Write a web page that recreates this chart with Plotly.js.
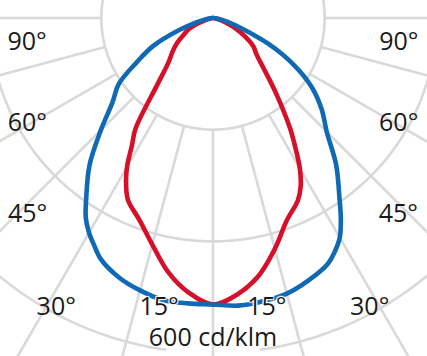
<!DOCTYPE html>
<html>
<head>
<meta charset="utf-8">
<script src="https://cdn.plot.ly/plotly-3.0.1.min.js"></script>
<style>
  html, body { margin: 0; padding: 0; width: 427px; height: 356px; overflow: hidden; background: #ffffff; }
  #plot { position: absolute; left: -217px; top: -412px; width: 860px; height: 860px; }
</style>
</head>
<body>
<div id="plot"></div>
<script>
// Polar angles (deg from nadir) and luminous intensity (cd/klm)
const gamma     = [0, 5, 10, 15, 20, 25, 27.5, 30, 32.5, 35, 40, 45, 50, 55, 60, 65, 70, 75, 80, 85, 90];
const blueLeft  = [513, 513, 513, 505, 494, 476, 460, 444, 424, 396, 344, 284, 235, 206, 157, 118, 68, 32, 14, 4, 0];
const blueRight = [513, 517, 515, 511, 500, 486, 472, 454, 426, 395, 343, 288, 254, 216, 166, 109, 54, 27, 11, 4, 0];
const redLeft   = [513, 494, 462, 420, 385, 360, 337, 308, 270, 242, 154, 113, 95, 79, 61, 48, 29, 14, 5, 2, 0];
const redRight  = [513, 497, 469, 428, 386, 360, 340, 311, 274, 240, 175, 129, 102, 88, 66, 45, 25, 13, 5, 2, 0];

// grid
const ringValues  = [200, 400, 600];
const spokeAngles = [-90, -75, -60, -45, -30, -15, 0, 15, 30, 45, 60, 75, 90];

// labels
const labelText  = ['90°', '90°', '60°', '60°', '45°', '45°', '30°', '30°'];
const labelTheta = [-82.2, 82.2, -60, 60, -43.2, 43.2, -28.3, 28.3];
const labelR     = [336, 336, 384, 384, 485, 485, 592, 592];
const label15Text  = ['15°', '15°'];
const label15Theta = [-10.5, 10.5];
const label15R     = [529, 529];
const unitText = '600 cd/klm';

function buildCurve(left, right) {
  const th = [], r = [];
  for (let i = gamma.length - 1; i >= 1; i--) { th.push(-gamma[i]); r.push(left[i]); }
  th.push(0); r.push(left[0]);
  for (let i = 1; i < gamma.length; i++) { th.push(gamma[i]); r.push(right[i]); }
  return { th, r };
}

const gridColor = '#d9d9d9';
const traces = [];

// rings
ringValues.forEach(function (v, idx) {
  const th = [], r = [];
  if (idx === 2) {
    for (let a = -180; a <= -8; a += 1) { th.push(a); r.push(v); }
    th.push(null); r.push(null);
    for (let a = 8; a <= 180; a += 1) { th.push(a); r.push(v); }
  } else {
    for (let a = -180; a <= 180; a += 1) { th.push(a); r.push(v); }
  }
  traces.push({ type: 'scatterpolar', mode: 'lines', r: r, theta: th,
    line: { color: gridColor, width: 2.6 }, hoverinfo: 'skip', showlegend: false, connectgaps: false });
});

// spokes
(function () {
  const th = [], r = [];
  spokeAngles.forEach(function (a) { th.push(a, a, null); r.push(ringValues[0], 800, null); });
  traces.push({ type: 'scatterpolar', mode: 'lines', r: r, theta: th,
    line: { color: gridColor, width: 2.6 }, hoverinfo: 'skip', showlegend: false, connectgaps: false });
})();

// curves
const red = buildCurve(redLeft, redRight);
traces.push({ type: 'scatterpolar', mode: 'lines', r: red.r, theta: red.th,
  line: { color: '#d7102a', width: 4.6, shape: 'spline', smoothing: 1.0 }, showlegend: false });
const blue = buildCurve(blueLeft, blueRight);
traces.push({ type: 'scatterpolar', mode: 'lines', r: blue.r, theta: blue.th,
  line: { color: '#0f69b4', width: 4.6, shape: 'spline', smoothing: 1.0 }, showlegend: false });

const fontFam = 'Open Sans, Noto Sans, sans-serif';
traces.push({ type: 'scatterpolar', mode: 'text', r: labelR, theta: labelTheta, text: labelText,
  textposition: 'middle center', textfont: { family: fontFam, size: 25, color: '#1a1a1a' },
  hoverinfo: 'skip', showlegend: false });
traces.push({ type: 'scatterpolar', mode: 'text', r: label15R, theta: label15Theta, text: label15Text,
  textposition: 'middle center',
  textfont: { family: fontFam, size: 25, color: '#1a1a1a',
    shadow: '1px 1px 1px #fff, -1px -1px 1px #fff, 1px -1px 1px #fff, -1px 1px 1px #fff' },
  hoverinfo: 'skip', showlegend: false });
traces.push({ type: 'scatterpolar', mode: 'text', r: [576], theta: [0], text: [unitText],
  textposition: 'middle center', textfont: { family: fontFam, size: 25, color: '#1a1a1a' },
  hoverinfo: 'skip', showlegend: false });

const layout = {
  width: 860, height: 860,
  margin: { l: 0, r: 0, t: 0, b: 0, pad: 0 },
  paper_bgcolor: '#ffffff',
  showlegend: false,
  polar: {
    domain: { x: [0, 1], y: [0, 1] },
    bgcolor: '#ffffff',
    radialaxis: { range: [0, 770], visible: false, showgrid: false, showline: false, showticklabels: false, ticks: '' },
    angularaxis: { rotation: -90, direction: 'counterclockwise', visible: false, showgrid: false, showline: false,
      showticklabels: false, ticks: '' }
  }
};

Plotly.newPlot('plot', traces, layout, { staticPlot: true, displayModeBar: false, responsive: false });
</script>
</body>
</html>
